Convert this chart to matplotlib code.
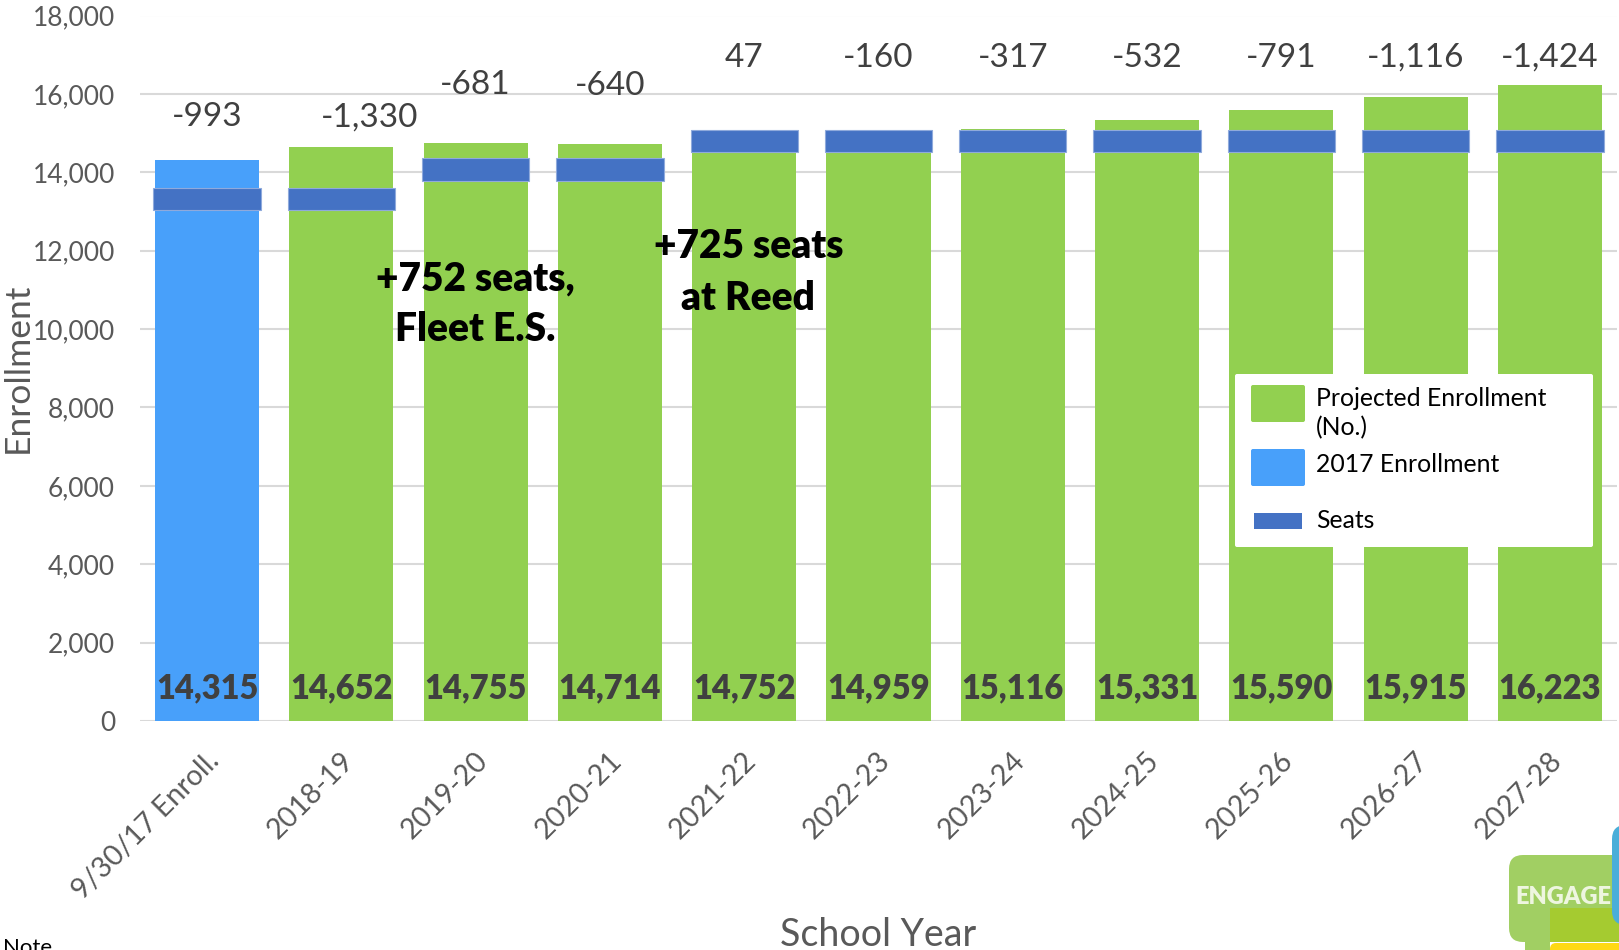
import matplotlib
matplotlib.use("Agg")
import matplotlib.pyplot as plt
from matplotlib.patches import FancyBboxPatch, Rectangle
from matplotlib.transforms import IdentityTransform, ScaledTranslation

plt.rcParams['font.family'] = ['Lato', 'DejaVu Sans']

school_years = ['9/30/17 Enroll.', '2018-19', '2019-20', '2020-21', '2021-22', '2022-23',
                '2023-24', '2024-25', '2025-26', '2026-27', '2027-28']
enrollment = [14315, 14652, 14755, 14714, 14752, 14959, 15116, 15331, 15590, 15915, 16223]
seats = [13322, 13322, 14074, 14074, 14799, 14799, 14799, 14799, 14799, 14799, 14799]
diff_labels = ['-993', '-1,330', '-681', '-640', '47', '-160', '-317', '-532', '-791', '-1,116', '-1,424']

# where the difference labels sit, they are hand placed in the original
label_y = [15400, 15400, 16220, 16200, 16920, 16920, 16920, 16920, 16920, 16920, 16920]
label_dx = [0, 0.21, 0, 0, 0, 0, 0, 0, 0, 0, 0]

GREEN = '#92d050'
BLUE = '#48a0fa'
SEAT = '#4472c4'
W, H = 1619, 950

fig = plt.figure(figsize=(W / 100, H / 100), dpi=100)
ax = fig.add_axes([140 / W, 1 - 721 / H, (W - 142) / W, (721 - 15.5) / H])
x = list(range(len(school_years)))

ax.bar(x[:1], enrollment[:1], width=0.775, color=BLUE, zorder=2)
ax.bar(x[1:], enrollment[1:], width=0.775, color=GREEN, zorder=2)
# seats band is a fixed thickness around the seat count
band = 570
ax.bar(x, [band] * len(x), bottom=[s - band / 2 - 5 for s in seats], width=0.8,
       color=SEAT, edgecolor='#8faadc', linewidth=0.8, zorder=3)

ax.set_xlim(-0.5, 10.5)
ax.set_ylim(0, 18000)
ax.set_yticks(range(0, 18001, 2000))
ax.set_yticklabels([f"{v:,}" for v in range(0, 18001, 2000)])
ax.set_xticks(x)
ax.set_xticklabels(school_years, rotation=45, ha='right', rotation_mode='anchor')
ax.tick_params(axis='both', length=0, labelcolor='#595959')
ax.tick_params(axis='y', pad=18, labelsize=19)
ax.tick_params(axis='x', pad=22, labelsize=20.5)
shift = ScaledTranslation(-1 / 72, 3 / 72, fig.dpi_scale_trans)
for lab in ax.get_xticklabels():
    lab.set_transform(lab.get_transform() + shift)
ax.grid(axis='y', color='#d9d9d9', linewidth=1.5, zorder=0)
ax.set_axisbelow(True)
for s in ax.spines.values():
    s.set_visible(False)

for i, v in enumerate(enrollment):
    ax.text(i, 830, f"{v:,}", ha='center', va='center', fontsize=23.5,
            fontweight='heavy', color='#404040', zorder=4)
for i, lab in enumerate(diff_labels):
    ax.text(i + label_dx[i], label_y[i], lab, ha='center', va='center', fontsize=24,
            color='#404040', zorder=4)

ax.text(2, 10640, "+752 seats,\nFleet E.S.", ha='center', va='center', fontsize=28,
        fontweight='heavy', color='black', linespacing=1.45, zorder=5)
ax.text(4.03, 11440, "+725 seats\nat Reed", ha='center', va='center', fontsize=28,
        fontweight='heavy', color='black', linespacing=1.5, zorder=5)

fig.text(18 / W, 1 - 368 / H, "Enrollment", rotation=90, ha='center', va='center',
         fontsize=25.5, color='#595959')
fig.text(878 / W, 1 - 935 / H, "School Year", ha='center', va='center',
         fontsize=27, color='#595959')
fig.text(3 / W, 1 - 954 / H, "Note", ha='left', va='baseline', fontsize=16, color='black')


# boxes given in picture pixels, y measured from the top
def fig_box(x0, y0, x1, y1, color, z=6, round_px=2):
    fig.add_artist(FancyBboxPatch((x0, H - y1), x1 - x0, y1 - y0,
                                  boxstyle=f"round,pad=0,rounding_size={round_px}",
                                  fc=color, ec='none', zorder=z,
                                  transform=IdentityTransform()))


# legend, built by hand to keep the wrapped label and row spacing
fig_box(1235, 374, 1593, 547, 'white')
fig_box(1251, 385, 1305, 422, GREEN, z=7)
fig_box(1251, 449, 1305, 486, BLUE, z=7)
fig_box(1254, 513, 1302, 529, SEAT, z=7, round_px=0.1)
leg_kw = dict(ha='left', va='center', fontsize=17.8, color='black', zorder=8)
fig.text(1316 / W, 1 - 398 / H, "Projected Enrollment", **leg_kw)
fig.text(1316 / W, 1 - 428 / H, "(No.)", **leg_kw)
fig.text(1316 / W, 1 - 465 / H, "2017 Enrollment", **leg_kw)
fig.text(1316 / W, 1 - 521 / H, "Seats", **leg_kw)

# ENGAGE logo in the bottom right corner
fig_box(1509, 855, 1640, 942, '#a1cf63', z=6, round_px=14)
fig.add_artist(Rectangle((1525, 0), 25, H - 940, fc='#a1cf63', ec='none', zorder=6,
                         transform=IdentityTransform()))
fig.add_artist(Rectangle((1550, H - 942), 69, 34, fc='#a5cb30', ec='none', zorder=7,
                         transform=IdentityTransform()))
fig_box(1612, 825, 1650, 925, '#4aaed9', z=8, round_px=14)
fig_box(1550, 943, 1640, 965, '#ffd914', z=9, round_px=6)
fig.text(1563 / W, 1 - 897 / H, "ENGAGE", ha='center', va='center', fontsize=17,
         fontweight='heavy', color='#eef6e0', zorder=10)

fig.savefig("out.png", dpi=100)
plt.close('all')
